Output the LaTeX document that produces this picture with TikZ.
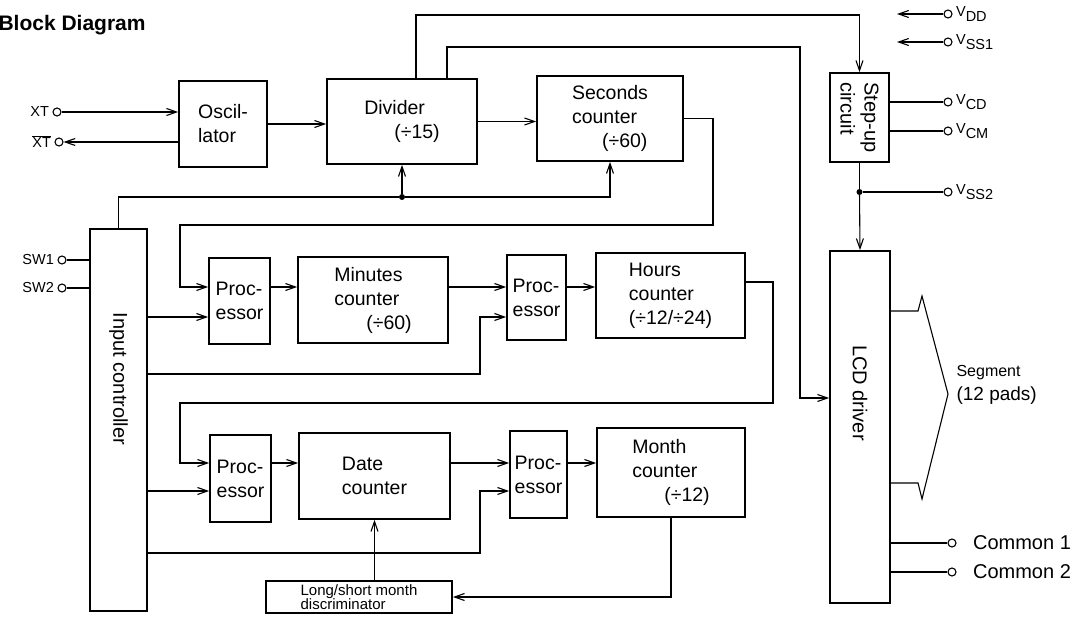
\documentclass[tikz,border=0pt]{standalone}
\usepackage{fontspec}
\setmainfont{Liberation Sans}
\usetikzlibrary{arrows.meta}
\newcommand{\vpin}[1]{V\raisebox{-5pt}{#1}}

\begin{document}
\begin{tikzpicture}
[blockDecorate/.style={draw,line width=1.7pt,inner sep=0pt,align=left,
   font=\fontsize{19.5}{24}\selectfont},
 lineDecorate/.style={line width=1.1pt},
 arrowDecorate/.style={lineDecorate,-{Straight Barb[length=10pt,width=7pt,line width=1.1pt]}},
 pinDecorate/.style={circle,draw,line width=1.1pt,inner sep=0pt,minimum size=8pt,label distance=5pt},
 dotDecorate/.style={circle,fill,inner sep=0pt,minimum size=6pt},
 every label/.style={font=\fontsize{14.5}{14.5}\selectfont},
 x=1pt,y=-1pt]
\useasboundingbox (0,0) rectangle (1080,618);
\node (title) at (-5,25) [anchor=west,font=\bfseries\fontsize{21}{21}\selectfont] {Block Diagram};
%% blocks
\foreach \nodename/\x/\y/\w/\h/\txt in {
  osc/223/124/88/86/{Oscil-\\lator},
  div/402/121.5/150/85/{Divider\\\hspace*{30pt}(÷15)},
  sec/610/118.5/146/85/{Seconds\\counter\\\hspace*{30pt}(÷60)},
  proc1/239.5/301/61/86/{Proc-\\essor},
  min/373/300/150/86/{Minutes\\counter\\\hspace*{32pt}(÷60)},
  proc2/536.5/297.5/59/85/{Proc-\\essor},
  hrs/670.5/295.5/149/85/{Hours\\counter\\(÷12/÷24)},
  proc3/240.5/478.5/61/87/{Proc-\\essor},
  date/374.5/476/151/86/{Date\\counter},
  proc4/538.5/474.5/57/87/{Proc-\\essor},
  mon/671/472.5/148/89/{Month\\counter\\\hspace*{32pt}(÷12)},
  inp/118.5/420/57/382/{},
  step/859.5/117.5/59/89/{},
  lcd/860/427/60/352/{}}
{
  \node (\nodename) at (\x,\y) [blockDecorate,minimum width=\w,minimum height=\h] {\txt};
}
\node (lsm) at (359,597) [blockDecorate,minimum width=186,minimum height=32,
  font=\fontsize{15}{14}\selectfont] {Long/short month\\discriminator};
%% rotated texts
\foreach \x/\y/\txt in {118.5/379/{Input controller}, 859.5/117.5/{Step-up\\circuit},
  860/393/{LCD driver}}
{
  \node at (\x,\y) [rotate=-90,align=left,font=\fontsize{20}{24}\selectfont] {\txt};
}
%% pins
\node (xt) at (57,112) [pinDecorate,label=left:XT] {};
\node (xtb) at (59,142) [pinDecorate,label={left:$\overline{\hbox{XT}}$}] {};
\node (sw1) at (62,260) [pinDecorate,label=left:SW1] {};
\node (sw2) at (62,288) [pinDecorate,label=left:SW2] {};
\foreach \nodename/\y/\sub in {vdd/14/DD, vss1/42/SS1, vcd/102/CD, vcm/131/CM, vss2/192/SS2}
{
  \node (\nodename) at (948,\y) [pinDecorate,label={right:\vpin{\sub}}] {};
}
\foreach \nodename/\y/\txt in {com1/543/{Common 1}, com2/572/{Common 2}}
{
  \node (\nodename) at (952,\y) [pinDecorate,label={[label distance=13pt,
    font=\fontsize{20}{20}\selectfont]right:\txt}] {};
}
\node (cdot) at (402,197) [dotDecorate] {};
\node (sdot) at (step.south |- vss2) [dotDecorate] {};
\node (seglabel) at (953,385) [anchor=west,align=left,font=\fontsize{19}{24}\selectfont]
  {{\fontsize{16}{16}\selectfont Segment}\\(12 pads)};
%% bends
\coordinate (minRow) at (180,287);
\coordinate (minCtl) at (480,317);
\coordinate (hrsCtl) at (480,374);
\coordinate (dateRow) at (180,463);
\coordinate (dateCtl) at (480,491);
\coordinate (monCtl) at (480,553);
\coordinate (secTurn) at (713,225);
\coordinate (hrsOut) at (773,282);
\coordinate (hrsTurn) at (773,403);
\coordinate (stepTop) at (416,15);
\coordinate (lcdTop) at (447,47);
\coordinate (lcdIn) at (800,398);
\coordinate (vddEnd) at (897,14);
\coordinate (vssEnd) at (897,42);
\coordinate (segTop) at (918,311);
\coordinate (segTip) at (948,394);
\coordinate (segBot) at (918,483);
%% connectors
\foreach \a/\b/\r in {proc1/min/minRow, min/proc2/minRow, proc2/hrs/minRow,
  proc3/date/dateRow, date/proc4/dateRow, proc4/mon/dateRow}
{
  \draw[arrowDecorate] (\a.east |- \r) -- (\b.west |- \r);
}
\draw[arrowDecorate] (xt) -- (xt -| osc.west);
\draw[arrowDecorate] (xtb -| osc.west) -- (xtb);
\draw[arrowDecorate] (osc.east) -- (osc.east -| div.west);
\draw[arrowDecorate] (div.east) -- (div.east -| sec.west);
\draw[arrowDecorate] (stepTop |- div.north) -- (stepTop) -| (step.north);
\draw[arrowDecorate] (lcdTop |- div.north) -- (lcdTop) -| (lcdIn) -- (lcdIn -| lcd.west);
\draw[arrowDecorate] (sec.east) -| (secTurn) -| (minRow) -- (proc1.west |- minRow);
\draw[lineDecorate] (inp.north) |- (cdot);
\draw[arrowDecorate] (cdot) -| (sec.south);
\draw[arrowDecorate] (cdot) -- (div.south);
\draw[lineDecorate] (sw1) -- (sw1 -| inp.west);
\draw[lineDecorate] (sw2) -- (sw2 -| inp.west);
\draw[arrowDecorate] (inp.east |- minCtl) -- (proc1.west |- minCtl);
\draw[arrowDecorate] (inp.east |- hrsCtl) -- (hrsCtl) |- (proc2.west |- minCtl);
\draw[arrowDecorate] (hrs.east |- hrsOut) -- (hrsOut) -- (hrsTurn) -| (dateRow)
  -- (proc3.west |- dateRow);
\draw[arrowDecorate] (inp.east |- dateCtl) -- (proc3.west |- dateCtl);
\draw[arrowDecorate] (inp.east |- monCtl) -- (monCtl) |- (proc4.west |- dateCtl);
\draw[arrowDecorate] (mon.south) |- (lsm.east);
\draw[arrowDecorate] (date.south |- lsm.north) -- (date.south);
\draw[arrowDecorate] (vdd) -- (vddEnd);
\draw[arrowDecorate] (vss1) -- (vssEnd);
\draw[lineDecorate] (vcd -| step.east) -- (vcd);
\draw[lineDecorate] (vcm -| step.east) -- (vcm);
\draw[lineDecorate] (step.south) -- (sdot) -- (vss2);
\draw[arrowDecorate] (sdot) -- (lcd.north);
\draw[lineDecorate] (com1 -| lcd.east) -- (com1);
\draw[lineDecorate] (com2 -| lcd.east) -- (com2);
\draw[lineDecorate] (lcd.east |- segTop) -- (segTop) -- ++(4,-15) -- (segTip)
  -- ++(-26,105) -- (segBot) -- (lcd.east |- segBot);
\end{tikzpicture}
\end{document}
